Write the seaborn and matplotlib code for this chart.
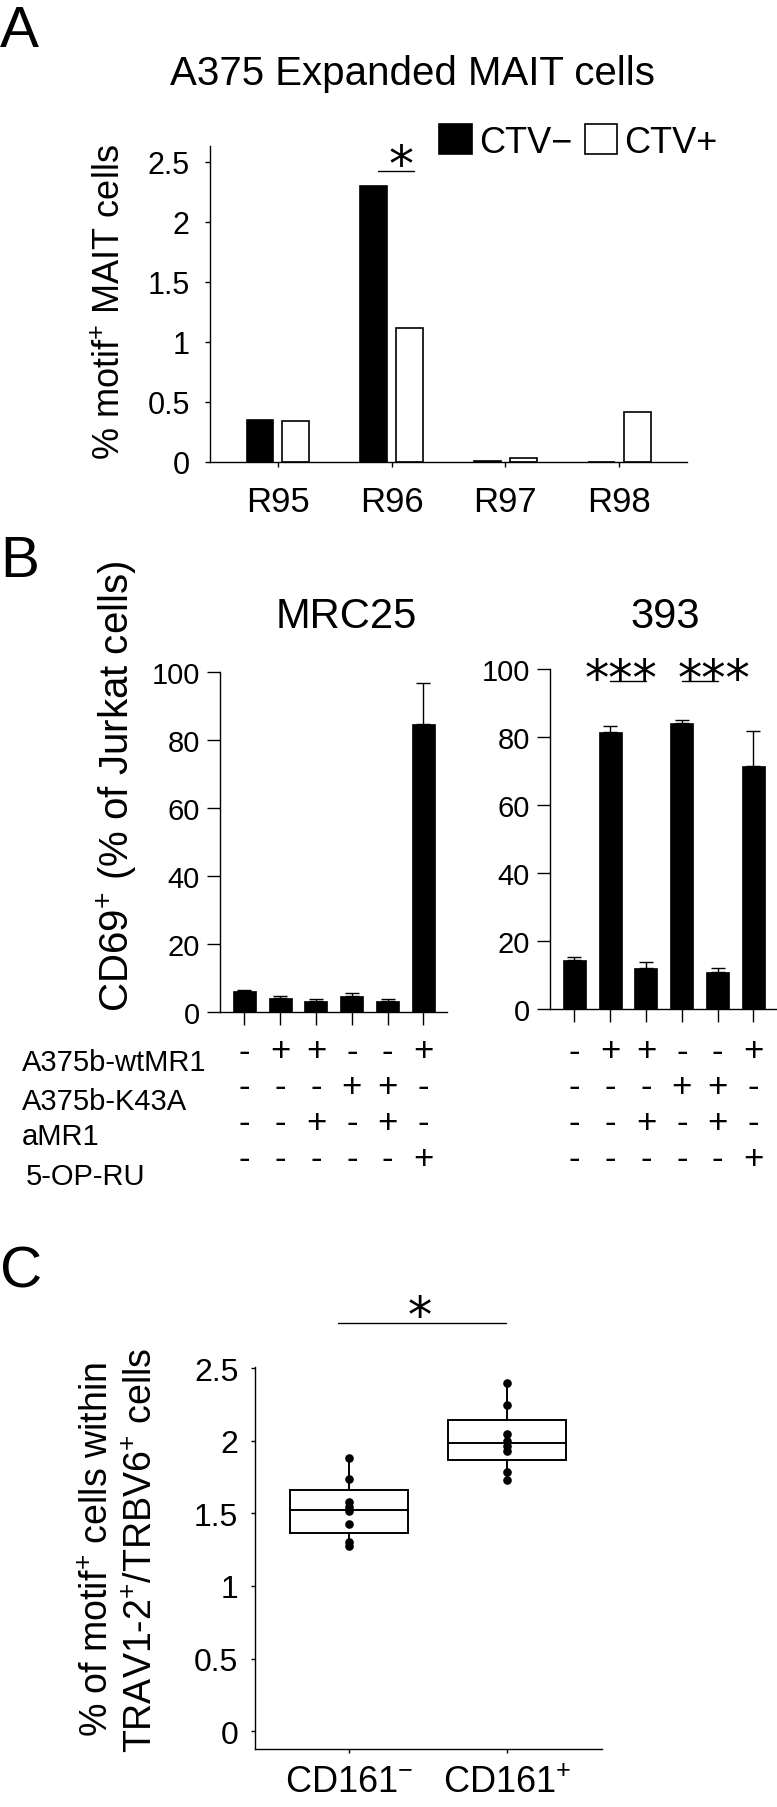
import numpy as np
import pandas as pd
import matplotlib
matplotlib.use('Agg')
import matplotlib.pyplot as plt
import matplotlib.transforms as mtransforms
from matplotlib.patches import Patch
from matplotlib.ticker import FuncFormatter
import seaborn as sns

# ---------------- data ----------------
regions = ['R95', 'R96', 'R97', 'R98']
ctv_labels = ['CTV\u2212', 'CTV+']
ctv_neg = [0.35, 2.30, 0.005, 0.0]
ctv_pos = [0.345, 1.117, 0.033, 0.42]

conditions = ['c1', 'c2', 'c3', 'c4', 'c5', 'c6']
mrc25_mean = [6.3, 4.1, 3.3, 4.6, 3.3, 84.6]
mrc25_err = [0.3, 0.6, 0.6, 0.9, 0.4, 12.3]
c393_mean = [14.4, 81.6, 12.1, 84.1, 11.0, 71.5]
c393_err = [1.0, 1.5, 1.8, 1.0, 1.2, 10.4]

table_rows = ['A375b-wtMR1', 'A375b-K43A', 'aMR1', '5-OP-RU']
wtmr1 = [0, 1, 1, 0, 0, 1]
k43a = [0, 0, 0, 1, 1, 0]
amr1 = [0, 0, 1, 0, 1, 0]
opru = [0, 0, 0, 0, 0, 1]

cd161_groups = ['CD161$^{-}$', 'CD161$^{+}$']
cd161_neg = [1.883, 1.738, 1.58, 1.545, 1.517, 1.428, 1.30, 1.275]
cd161_pos = [2.40, 2.248, 2.048, 2.0, 1.966, 1.93, 1.786, 1.73]
box_q1 = [1.366, 1.869]
box_med = [1.524, 1.986]
box_q3 = [1.66, 2.145]

# ---------------- style ----------------
sns.set_style('ticks')
plt.rcParams['font.family'] = ['Liberation Sans', 'DejaVu Sans']
plt.rcParams['mathtext.fontset'] = 'custom'
plt.rcParams['mathtext.rm'] = 'Liberation Sans'
plt.rcParams['mathtext.it'] = 'Liberation Sans'
plt.rcParams['mathtext.bf'] = 'Liberation Sans:bold'
for k in ['axes.edgecolor', 'xtick.color', 'ytick.color', 'text.color', 'axes.labelcolor']:
    plt.rcParams[k] = 'black'
plt.rcParams['axes.linewidth'] = 1.0

W, H = 777, 1808
fig = plt.figure(figsize=(W / 100, H / 100), dpi=100)


def px_axes(x0, y0, x1, y1):
    return fig.add_axes([x0 / W, 1 - y1 / H, (x1 - x0) / W, (y1 - y0) / H])


def star(ax, x, yc, s, fs):
    tr = mtransforms.offset_copy(ax.transData, fig=fig, y=-0.58 * fs, units='points')
    ax.text(x, yc, s, transform=tr, ha='center', va='baseline', fontsize=fs,
            family='DejaVu Sans', clip_on=False)


def clean(ax):
    sns.despine(ax=ax)
    ax.set_xlabel('')
    ax.set_ylabel('')


gfmt = FuncFormatter(lambda v, p: '{:g}'.format(round(v, 3)))

# ---------------- Panel A ----------------
axA = px_axes(210, 147, 687, 463)
dfA = pd.DataFrame({'region': regions * 2,
                    'group': [ctv_labels[0]] * 4 + [ctv_labels[1]] * 4,
                    'value': ctv_neg + ctv_pos})
sns.barplot(data=dfA, x='region', y='value', hue='group', order=regions, hue_order=ctv_labels,
            palette={ctv_labels[0]: 'black', ctv_labels[1]: 'white'}, saturation=1,
            edgecolor='black', linewidth=1.2, width=0.633, gap=0.25, errorbar=None,
            legend=False, ax=axA)
clean(axA)
axA.set_xlim(-0.598, 3.597)
axA.set_ylim(0, 2.633)
axA.set_yticks([0, 0.5, 1, 1.5, 2, 2.5])
axA.yaxis.set_major_formatter(gfmt)
axA.tick_params(axis='y', direction='out', length=3.6, width=1, labelsize=22, pad=11)
axA.tick_params(axis='x', direction='out', length=3.6, width=1, labelsize=25, pad=13)

fig.text(0, 1 - 47 / H, 'A', ha='left', va='baseline', fontsize=42)
fig.text(412 / W, 1 - 85 / H, 'A375 Expanded MAIT cells', ha='center', va='baseline', fontsize=29)
fig.text(110 / W, 1 - 302 / H, '% motif$^{+}$ MAIT cells', rotation=90,
         ha='center', va='center', fontsize=26)
fig.legend(handles=[Patch(fc='black', ec='black', lw=1.2), Patch(fc='white', ec='black', lw=1.2)],
           labels=ctv_labels, loc='center left', bbox_to_anchor=(439 / W, 1 - 143 / H),
           ncol=2, frameon=False, fontsize=26, handlelength=0.9, handleheight=0.9,
           handletextpad=0.2, columnspacing=0.35, borderpad=0, borderaxespad=0)
yline = max(ctv_neg[1], ctv_pos[1]) + 0.125
axA.plot([1 - 0.12, 1 + 0.2], [yline, yline], color='black', lw=1.0, clip_on=False)
star(axA, 1.08, yline + 0.165, '*', 36)

# ---------------- Panel B ----------------
axL = px_axes(220, 673, 447, 1013)
axR = px_axes(550, 670, 777, 1010)
for ax, mean, err, title, tx in [(axL, mrc25_mean, mrc25_err, 'MRC25', 346),
                                  (axR, c393_mean, c393_err, '393', 665)]:
    sns.barplot(x=conditions, y=mean, order=conditions, color='black', saturation=1,
                width=0.64, errorbar=None, edgecolor='black', linewidth=0.5, ax=ax)
    ax.errorbar(np.arange(len(mean)), mean, yerr=[np.zeros(len(mean)), err], fmt='none',
                ecolor='black', elinewidth=1.0, capsize=4.7, capthick=1.0, zorder=3)
    clean(ax)
    ax.set_xlim(-0.68, 5.66)
    ax.set_ylim(0, 100)
    ax.set_yticks([0, 20, 40, 60, 80, 100])
    ax.set_xticks(range(len(mean)))
    ax.set_xticklabels([])
    ax.tick_params(axis='y', direction='out', length=9.4, width=1, labelsize=21, pad=5)
    ax.tick_params(axis='x', direction='out', length=9.4, width=1)
    fig.text(tx / W, 1 - 628 / H, title, ha='center', va='baseline', fontsize=30)
    # +/- table
    tr = mtransforms.blended_transform_factory(ax.transData, fig.transFigure)
    for r, row in enumerate([wtmr1, k43a, amr1, opru]):
        yb = 1050 + r * 35.7 + 11.5
        for i, v in enumerate(row):
            ax.text(i, 1 - yb / H, '+' if v else '-', transform=tr, ha='center',
                    va='baseline', fontsize=25, clip_on=False)

fig.text(0, 1 - 577 / H, 'B', ha='left', va='baseline', fontsize=42)
fig.text(117 / W, 1 - 786 / H, 'CD69$^{+}$ (% of Jurkat cells)', rotation=90,
         ha='center', va='center', fontsize=29)
for lab, yb, xl in zip(table_rows, [1071, 1110, 1145, 1185], [22, 22, 22, 26]):
    fig.text(xl / W, 1 - yb / H, lab, ha='left', va='baseline', fontsize=21)

# significance on 393
for (a, b), sx in zip([(1, 2), (3, 4)], [1.31, 3.89]):
    yl = 96.5
    axR.plot([a, b], [yl, yl], color='black', lw=1.0, clip_on=False)
    star(axR, sx, 100.9, '***', 35)

# ---------------- Panel C ----------------
axC = px_axes(255, 1368, 602, 1750)
stats = []
for i, vals in enumerate([cd161_neg, cd161_pos]):
    stats.append(dict(med=box_med[i], q1=box_q1[i], q3=box_q3[i],
                      whislo=min(vals), whishi=max(vals), fliers=[], label=cd161_groups[i]))
axC.bxp(stats, positions=[0, 1], widths=0.75, patch_artist=True, showcaps=False,
        showfliers=False, manage_ticks=False,
        boxprops=dict(facecolor='white', edgecolor='black', linewidth=1.4),
        medianprops=dict(color='black', linewidth=1.4),
        whiskerprops=dict(color='black', linewidth=1.4), zorder=2)
dfC = pd.DataFrame({'group': [cd161_groups[0]] * len(cd161_neg) + [cd161_groups[1]] * len(cd161_pos),
                    'value': cd161_neg + cd161_pos})
sns.stripplot(data=dfC, x='group', y='value', order=cd161_groups, jitter=False, color='black',
              size=6.2, linewidth=0, ax=axC, zorder=3)
clean(axC)
axC.set_xlim(-0.595, 1.60)
axC.set_ylim(-0.124, 2.51)
axC.set_yticks([0, 0.5, 1, 1.5, 2, 2.5])
axC.yaxis.set_major_formatter(gfmt)
axC.set_xticks([0, 1])
axC.set_xticklabels(cd161_groups)
axC.tick_params(axis='y', direction='out', length=3, width=1, labelsize=23, pad=9)
axC.tick_params(axis='x', direction='out', length=3, width=1, labelsize=26, pad=8)

fig.text(0, 1 - 1288 / H, 'C', ha='left', va='baseline', fontsize=42)
fig.text(120 / W, 1 - 1550 / H, '% of motif$^{+}$ cells within\nTRAV1-2$^{+}$/TRBV6$^{+}$ cells',
         rotation=90, ha='center', va='center', fontsize=27, linespacing=1.25,
         multialignment='center')
ylc = max(cd161_pos) + 0.41
axC.plot([-0.07, 0.99], [ylc, ylc], color='black', lw=1.0, clip_on=False)
star(axC, 0.45, ylc + 0.14, '*', 35)

fig.savefig('out.png', dpi=100)
